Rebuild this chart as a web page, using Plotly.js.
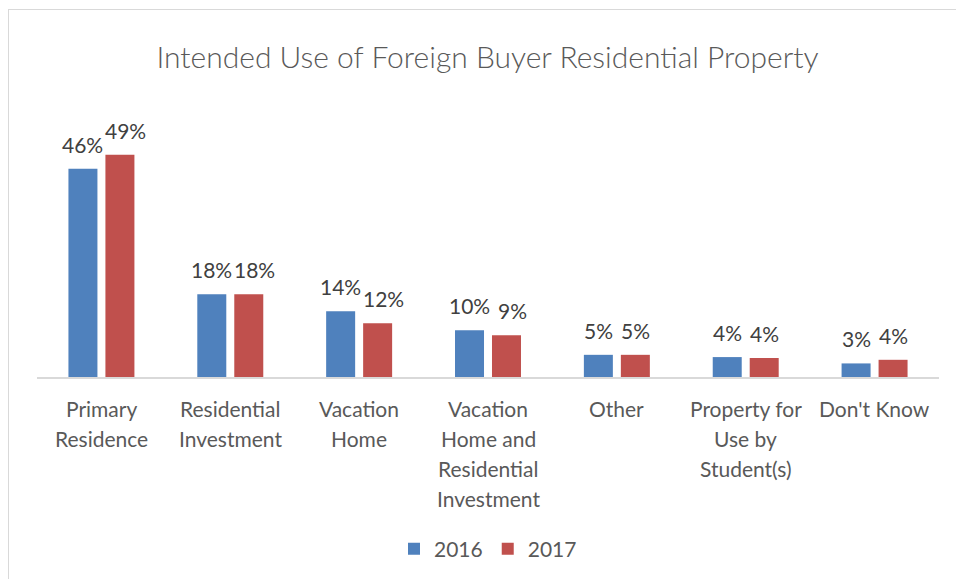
<!DOCTYPE html>
<html>
<head>
<meta charset="utf-8">
<script src="https://cdn.plot.ly/plotly-3.0.1.min.js"></script>
<style>
  html, body { margin: 0; padding: 0; background: #ffffff; }
  #wrap { position: relative; width: 956px; height: 579px; overflow: hidden; }
  #chart { position: absolute; left: 0; top: 0; width: 956px; height: 579px; }
  #frame { position: absolute; left: 8px; top: 9px; width: 1000px; height: 700px;
           border-left: 1.5px solid #d9d9d9; border-top: 1.5px solid #d9d9d9; pointer-events: none; }
</style>
</head>
<body>
<div id="wrap">
  <div id="chart"></div>
  <div id="frame"></div>
</div>
<script>
// ---- data ----
const categories = ["Primary Residence", "Residential Investment", "Vacation Home",
  "Vacation Home and Residential Investment", "Other", "Property for Use by Student(s)", "Don't Know"];
const tickLines = [
  ["Primary", "Residence"],
  ["Residential", "Investment"],
  ["Vacation", "Home"],
  ["Vacation", "Home and", "Residential", "Investment"],
  ["Other"],
  ["Property for", "Use by", "Student(s)"],
  ["Don't Know"]
];
const series2016 = [46.0, 18.3, 14.5, 10.3, 4.9, 4.4, 3.0];
const series2017 = [49.1, 18.3, 11.9, 9.2, 4.9, 4.2, 3.8];
const labels2016 = ["46%", "18%", "14%", "10%", "5%", "4%", "3%"];
const labels2017 = ["49%", "18%", "12%", "9%", "5%", "4%", "4%"];

// ---- style ----
const FONT = "Lato, 'Open Sans', sans-serif";
const W = 956, H = 579;
const margin = {l: 37, r: 17, t: 128, b: 201};
const bargap = 0.426, bargroupgap = 0.216;
const plotW = W - margin.l - margin.r;
const catW = plotW / categories.length;
const barOffset = (1 - bargap) * catW / 4;

const traces = [
  {type: "bar", name: "2016", x: categories, y: series2016,
   marker: {color: "#4f81bd"}, hoverinfo: "none"},
  {type: "bar", name: "2017", x: categories, y: series2017,
   marker: {color: "#c0504d"}, hoverinfo: "none"}
];

const annotations = [];
categories.forEach((c, i) => {
  tickLines[i].forEach((line, j) => {
    annotations.push({
      x: c, xref: "x", y: 0, yref: "paper", yanchor: "middle", xanchor: "center",
      yshift: -31 - 30 * j, text: line, showarrow: false,
      font: {family: FONT, size: 21, color: "#595959"}
    });
  });
  // nudge the 2017 label right when the neighbouring 2016 label is wide (avoids overlap)
  const nudge = labels2016[i].length >= 3 ? 6 : 0;
  [[series2016, labels2016, -barOffset], [series2017, labels2017, barOffset + nudge]].forEach(([vals, labs, dx]) => {
    annotations.push({
      x: c, xref: "x", y: vals[i], yref: "y", yanchor: "bottom", xanchor: "center",
      xshift: dx, yshift: 10, text: labs[i], showarrow: false,
      font: {family: FONT, size: 21, color: "#404040"}
    });
  });
});

const layout = {
  width: W, height: H,
  margin: margin,
  paper_bgcolor: "#ffffff", plot_bgcolor: "#ffffff",
  title: {text: "Intended Use of Foreign Buyer Residential Property",
          x: 0.51, xanchor: "center", y: 1 - 57 / H, yanchor: "middle", yref: "container",
          font: {family: FONT, size: 30, color: "#595959", weight: 300}},
  barmode: "group", bargap: bargap, bargroupgap: bargroupgap,
  xaxis: {type: "category", showticklabels: false, ticks: "", showgrid: false,
          showline: true, linecolor: "#d9d9d9", linewidth: 1.5, zeroline: false, fixedrange: true},
  yaxis: {range: [0, 55], visible: false, showgrid: false, zeroline: false, fixedrange: true},
  showlegend: true,
  legend: {orientation: "h", x: 0.5, xanchor: "center", y: -0.684, yanchor: "middle",
           font: {family: FONT, size: 21, color: "#595959"}, itemwidth: 30, bgcolor: "rgba(0,0,0,0)"},
  annotations: annotations
};

Plotly.newPlot("chart", traces, layout, {staticPlot: true, displayModeBar: false});
</script>
</body>
</html>
